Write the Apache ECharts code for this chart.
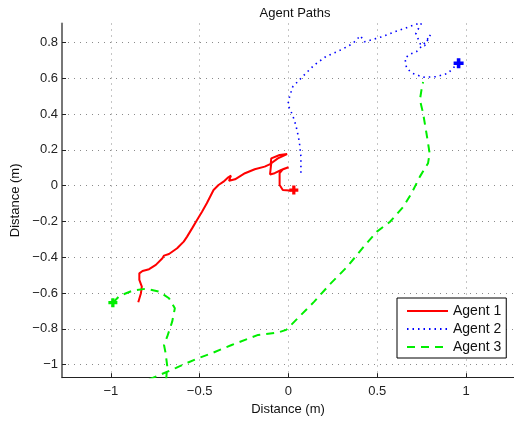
<!DOCTYPE html>
<html>
<head>
<meta charset="utf-8">
<script src="https://cdn.jsdelivr.net/npm/echarts@6/dist/echarts.min.js"></script>
<style>
  html, body { margin: 0; padding: 0; background: #fff; }
  #chart { width: 514px; height: 422px; }
</style>
</head>
<body>
<div id="chart"></div>
<script>
// paths, [x, y] in metres
var agent1Path = [
  [-0.846, -0.652], [-0.831, -0.601], [-0.826, -0.564], [-0.840, -0.527], [-0.840, -0.490],
  [-0.822, -0.477], [-0.785, -0.467], [-0.747, -0.443], [-0.710, -0.406], [-0.701, -0.391],
  [-0.673, -0.382], [-0.627, -0.350], [-0.590, -0.313], [-0.571, -0.285], [-0.543, -0.239],
  [-0.515, -0.192], [-0.487, -0.146], [-0.460, -0.099], [-0.422, -0.025], [-0.394, 0.003],
  [-0.366, 0.022], [-0.339, 0.046], [-0.324, 0.055], [-0.335, 0.027], [-0.301, 0.035],
  [-0.245, 0.069], [-0.190, 0.091], [-0.134, 0.106], [-0.100, 0.121], [-0.097, 0.152],
  [-0.050, 0.171], [-0.008, 0.176], [-0.060, 0.152], [-0.097, 0.125], [-0.104, 0.062],
  [-0.078, 0.069], [-0.041, 0.087], [0.000, 0.102], [-0.032, 0.091], [-0.050, 0.069],
  [-0.050, 0.003], [-0.032, -0.025], [0.006, -0.028], [0.030, -0.025]
];
var agent2Path = [
  [0.070, 0.072], [0.070, 0.161], [0.061, 0.245], [0.048, 0.310], [0.033, 0.366],
  [0.011, 0.422], [-0.004, 0.450], [0.006, 0.496], [0.024, 0.552], [0.061, 0.590],
  [0.098, 0.627], [0.145, 0.673], [0.210, 0.720], [0.275, 0.748], [0.331, 0.776],
  [0.364, 0.795], [0.405, 0.837], [0.427, 0.803], [0.465, 0.813], [0.526, 0.831],
  [0.591, 0.856], [0.656, 0.878], [0.717, 0.901], [0.749, 0.906], [0.717, 0.850],
  [0.743, 0.789], [0.767, 0.781], [0.799, 0.841], [0.773, 0.803], [0.721, 0.748],
  [0.684, 0.733], [0.656, 0.711], [0.665, 0.655], [0.699, 0.627], [0.758, 0.605],
  [0.833, 0.608], [0.898, 0.627], [0.954, 0.683]
];
var agent3Path = [
  [-0.989, -0.654], [-0.952, -0.616], [-0.878, -0.587], [-0.803, -0.576], [-0.729, -0.592],
  [-0.673, -0.629], [-0.640, -0.685], [-0.655, -0.760], [-0.683, -0.844], [-0.701, -0.890],
  [-0.692, -0.936], [-0.683, -1.007], [-0.690, -1.100], [-0.825, -1.100], [-0.748, -1.067],
  [-0.636, -1.019], [-0.524, -0.970], [-0.432, -0.936], [-0.320, -0.890], [-0.171, -0.834],
  [-0.060, -0.821], [-0.013, -0.806], [0.052, -0.741], [0.145, -0.648], [0.238, -0.546],
  [0.331, -0.453], [0.424, -0.341], [0.498, -0.257], [0.572, -0.202], [0.647, -0.118],
  [0.693, -0.043], [0.740, 0.050], [0.786, 0.125], [0.795, 0.180], [0.777, 0.292],
  [0.758, 0.404], [0.740, 0.478], [0.749, 0.534], [0.758, 0.578]
];
var endMarkers = [
  { name: 'Agent 1 end', color: '#ff0000', at: [0.030, -0.025], size: 9 },
  { name: 'Agent 2 end', color: '#0000ff', at: [0.958, 0.683], size: 10 },
  { name: 'Agent 3 start', color: '#00ee00', at: [-0.989, -0.654], size: 9 }
];
var legendNames = ['Agent 1', 'Agent 2', 'Agent 3'];

var font = "'Liberation Sans', Arial, sans-serif";
var plus = 'path://M3.2,0H6.8V3.2H10V6.8H6.8V10H3.2V6.8H0V3.2H3.2Z';

function tickText(v) {
  return String(v).replace('-', '\u2212');
}

var gridLine = { show: true, showMaxLine: false, lineStyle: { color: '#8a8a8a', type: [1, 5], width: 1 } };

var series = [
  { name: 'Agent 1', type: 'line', data: agent1Path, symbol: 'none', clip: true,
    lineStyle: { color: '#ff0000', width: 2 }, itemStyle: { color: '#ff0000' } },
  { name: 'Agent 2', type: 'line', data: agent2Path, symbol: 'none', clip: true,
    lineStyle: { color: '#0000ff', width: 1.6, type: [1.5, 4] }, itemStyle: { color: '#0000ff' } },
  { name: 'Agent 3', type: 'line', data: agent3Path, symbol: 'none', clip: true,
    lineStyle: { color: '#00ee00', width: 2, type: [8, 6] }, itemStyle: { color: '#00ee00' } }
];
endMarkers.forEach(function (m) {
  series.push({
    name: m.name, type: 'scatter', data: [m.at], symbol: plus, symbolSize: m.size,
    itemStyle: { color: m.color, opacity: 1 }, z: 5
  });
});

var chart = echarts.init(document.getElementById('chart'));
chart.setOption({
  animation: false,
  backgroundColor: '#fff',
  textStyle: { fontFamily: font },
  title: {
    text: 'Agent Paths', left: 290, top: 2, textAlign: 'center',
    textStyle: { fontSize: 13, fontWeight: 'normal', color: '#111', fontFamily: font }
  },
  legend: {
    data: legendNames, orient: 'vertical', left: 397, top: 298,
    padding: [6, 5, 4, 9], itemWidth: 41, itemHeight: 14, itemGap: 4,
    backgroundColor: '#fff', borderColor: '#000', borderWidth: 1,
    itemStyle: { color: 'transparent', borderColor: 'transparent', borderWidth: 0, opacity: 0 },
    textStyle: { fontSize: 14, color: '#111', fontFamily: font, padding: [0, 0, 0, 0] }
  },
  grid: { left: 62, top: 23.5, width: 456.4, height: 353.7, containLabel: false },
  xAxis: {
    type: 'value', min: -1.2755, max: 1.27, splitNumber: 5,
    name: 'Distance (m)', nameLocation: 'middle', nameGap: 23,
    nameTextStyle: { fontSize: 13, color: '#111', fontFamily: font },
    axisLine: { onZero: false, lineStyle: { color: '#222', width: 1 } },
    axisTick: { inside: true, length: 4, lineStyle: { color: '#222' } },
    axisLabel: { fontSize: 13, color: '#222', margin: 8, showMinLabel: false, showMaxLabel: false, formatter: tickText },
    splitLine: gridLine
  },
  yAxis: {
    type: 'value', min: -1.07, max: 0.905, splitNumber: 10,
    name: 'Distance (m)', nameLocation: 'middle', nameGap: 36, nameRotate: 90,
    nameTextStyle: { fontSize: 13, color: '#111', fontFamily: font },
    axisLine: { onZero: false, lineStyle: { color: '#777', width: 2 } },
    axisTick: { inside: true, length: 4, lineStyle: { color: '#222' } },
    axisLabel: { fontSize: 13, color: '#222', margin: 4, showMinLabel: false, showMaxLabel: false, formatter: tickText },
    splitLine: gridLine
  },
  series: series
});
</script>
</body>
</html>
